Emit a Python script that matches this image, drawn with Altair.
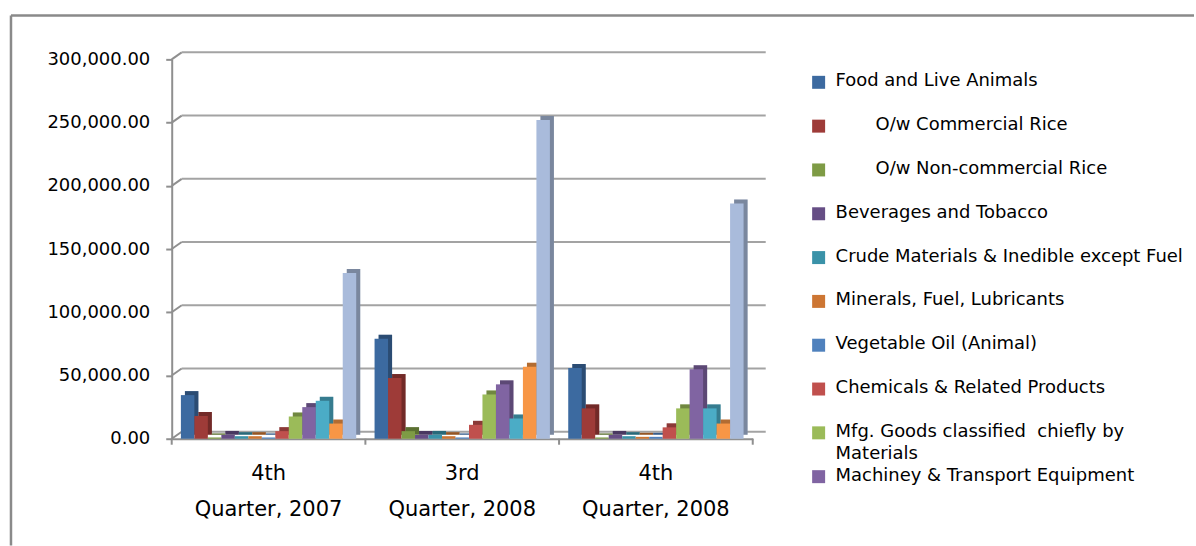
import altair as alt
import pandas as pd

# Quarters on the category axis (two-line labels)
quarters = ["4th Quarter, 2007", "3rd Quarter, 2008", "4th Quarter, 2008"]
quarter_line1 = ["4th", "3rd", "4th"]
quarter_line2 = ["Quarter, 2007", "Quarter, 2008", "Quarter, 2008"]

# Commodity groups (one bar each per quarter)
series = [
    "Food and Live Animals",
    "O/w Commercial Rice",
    "O/w Non-commercial Rice",
    "Beverages and Tobacco",
    "Crude Materials & Inedible except Fuel",
    "Minerals, Fuel, Lubricants",
    "Vegetable Oil (Animal)",
    "Chemicals & Related Products",
    "Mfg. Goods classified chiefly by Materials",
    "Machiney & Transport Equipment",
    "Misc. Manufactured Articles",
    "Commodities & Transactions n.e.s.",
    "Total",
]

# Text shown in the key (first ten groups only)
legend_labels = [
    "Food and Live Animals",
    "O/w Commercial Rice",
    "O/w Non-commercial Rice",
    "Beverages and Tobacco",
    "Crude Materials & Inedible except Fuel",
    "Minerals, Fuel, Lubricants",
    "Vegetable Oil (Animal)",
    "Chemicals & Related Products",
    "Mfg. Goods classified \u00a0chiefly by\nMaterials",
    "Machiney & Transport Equipment",
]

colors = [
    "#3C6AA0", "#9E3B38", "#7E9B45", "#664E85", "#3A92A8", "#CD7633",
    "#4F81BD", "#C0504D", "#9BBB59", "#8064A2", "#4BACC6", "#F79646",
    "#A9BBDB",
]

values_q4_2007 = [34500, 18000, 1000, 3000, 2000, 2000, 1000, 6000, 17500, 25000, 30000, 12000, 131000]
values_q3_2008 = [79000, 48000, 6000, 3000, 3000, 2000, 1000, 11000, 35000, 43000, 16000, 57000, 252000]
values_q4_2008 = [56000, 24000, 1000, 3000, 2000, 1500, 1500, 9000, 24000, 55000, 24000, 12000, 186000]

y_ticks = [0, 50000, 100000, 150000, 200000, 250000, 300000]

rows = []
for q, vals in zip(quarters, [values_q4_2007, values_q3_2008, values_q4_2008]):
    for s, v in zip(series, vals):
        rows.append({"quarter": q, "series": s, "value": v})
df = pd.DataFrame(rows)
ticks_df = pd.DataFrame({"tick": y_ticks})
quarters_df = pd.DataFrame({"quarter": quarters, "line1": quarter_line1, "line2": quarter_line2})
legend_df = pd.DataFrame({"series": series[:10], "label": legend_labels})

GRAY = "#8f8f8f"
FONT = "DejaVu Sans"
PLOT_W, PLOT_H = 582, 380

y_scale = alt.Scale(domain=[0, 300000], nice=False, zero=True)
x_scale = alt.Scale(paddingInner=0, paddingOuter=0)
color_scale = alt.Scale(domain=series, range=colors)

x_enc = alt.X(
    "quarter:N",
    sort=quarters,
    scale=x_scale,
    axis=alt.Axis(title=None, labels=False, ticks=False, domainColor=GRAY, domainWidth=2),
)
y_enc = alt.Y(
    "value:Q",
    scale=y_scale,
    axis=alt.Axis(
        values=y_ticks,
        format=",.2f",
        title=None,
        grid=False,
        labelFont=FONT,
        labelFontSize=18,
        labelColor="#000000",
        labelPadding=16,
        tickSize=6,
        tickWidth=2,
        tickColor=GRAY,
        domainColor=GRAY,
        domainWidth=2,
    ),
)

# front faces centred in each quarter; depth faces pushed a few pixels right
front_off = alt.XOffset("series:N", sort=series, scale=alt.Scale(paddingInner=0, paddingOuter=0.68, align=0.5))
depth_off = alt.XOffset("series:N", sort=series, scale=alt.Scale(paddingInner=0, paddingOuter=0.68, align=0.72))

depth = alt.Chart(df).mark_bar(yOffset=-4).encode(
    x=x_enc, xOffset=depth_off, y=y_enc,
    color=alt.Color("series:N", scale=color_scale, legend=None),
)
depth_shade = alt.Chart(df).mark_bar(yOffset=-4).encode(
    x=x_enc, xOffset=depth_off, y=y_enc,
    color=alt.value("#000000"), opacity=alt.value(0.28),
)
front = alt.Chart(df).mark_bar().encode(
    x=x_enc, xOffset=front_off, y=y_enc,
    color=alt.Color("series:N", scale=color_scale, legend=None),
)
bars = alt.layer(depth, depth_shade, front).resolve_scale(xOffset="independent")

# back-wall gridlines with short diagonals to the axis ticks
grid = alt.Chart(ticks_df).mark_rule(color="#a3a3a3", strokeWidth=2, yOffset=-7).encode(
    y=alt.Y("tick:Q", scale=y_scale), x=alt.value(10), x2=alt.value(PLOT_W + 13)
)
diag = alt.Chart(ticks_df).mark_rule(color=GRAY, strokeWidth=2, y2Offset=-7).encode(
    y=alt.Y("tick:Q", scale=y_scale), y2=alt.Y2("tick"), x=alt.value(0), x2=alt.value(10)
)

# category separators below the floor edge
seps = alt.Chart(quarters_df).mark_rule(color=GRAY, strokeWidth=2).encode(
    x=alt.X("quarter:N", sort=quarters, scale=x_scale, bandPosition=0),
    y=alt.value(PLOT_H), y2=alt.value(PLOT_H + 6),
)
sep_end = alt.Chart(quarters_df.tail(1)).mark_rule(color=GRAY, strokeWidth=2).encode(
    x=alt.X("quarter:N", sort=quarters, scale=x_scale, bandPosition=1),
    y=alt.value(PLOT_H), y2=alt.value(PLOT_H + 6),
)

# category labels, two lines each
lab1 = alt.Chart(quarters_df).mark_text(
    font=FONT, fontSize=21, color="#000000", align="center", baseline="alphabetic"
).encode(x=alt.X("quarter:N", sort=quarters, scale=x_scale), y=alt.value(PLOT_H + 41), text="line1:N")
lab2 = alt.Chart(quarters_df).mark_text(
    font=FONT, fontSize=21, color="#000000", align="center", baseline="alphabetic"
).encode(x=alt.X("quarter:N", sort=quarters, scale=x_scale), y=alt.value(PLOT_H + 77), text="line2:N")

# chart-area border (left and top edges)
one = pd.DataFrame({"k": [0]})
frame_top = alt.Chart(one).mark_rule(color="#8a8a8a", strokeWidth=2.5).encode(
    x=alt.value(-161), x2=alt.value(1024), y=alt.value(-44)
)
frame_left = alt.Chart(one).mark_rule(color="#8a8a8a", strokeWidth=2.5).encode(
    x=alt.value(-161), y=alt.value(-44), y2=alt.value(487)
)

main = alt.layer(
    frame_top, frame_left, grid, diag, seps, sep_end, lab1, lab2, bars
).properties(width=PLOT_W, height=PLOT_H)

# key: squares and labels (the rice sub-items are indented)
key_y = alt.Y("series:N", sort=series[:10], axis=None, scale=alt.Scale(type="point", padding=0.524))
key_sq = alt.Chart(legend_df).mark_square(size=169, opacity=1).encode(
    y=key_y, x=alt.value(13), color=alt.Color("series:N", scale=color_scale, legend=None)
)
text_style = dict(
    align="left", baseline="alphabetic", lineBreak="\n", lineHeight=22,
    font=FONT, fontSize=18, color="#000000",
)
key_txt = alt.Chart(legend_df).transform_filter(
    "indexof(datum.label, 'O/w') != 0"
).mark_text(dy=4, **text_style).encode(y=key_y, x=alt.value(30), text="label:N")
key_txt_sub = alt.Chart(legend_df).transform_filter(
    "indexof(datum.label, 'O/w') == 0"
).mark_text(dy=4, **text_style).encode(y=key_y, x=alt.value(70), text="label:N")
key = alt.layer(key_sq, key_txt, key_txt_sub).properties(width=385, height=441)

chart = (
    alt.hconcat(main, key, spacing=53, bounds="flush")
    .properties(padding={"left": 9, "top": 13, "right": 0, "bottom": 0})
    .configure_view(stroke=None)
)

chart.save("out.html", embed_options={"renderer": "svg", "actions": False})
